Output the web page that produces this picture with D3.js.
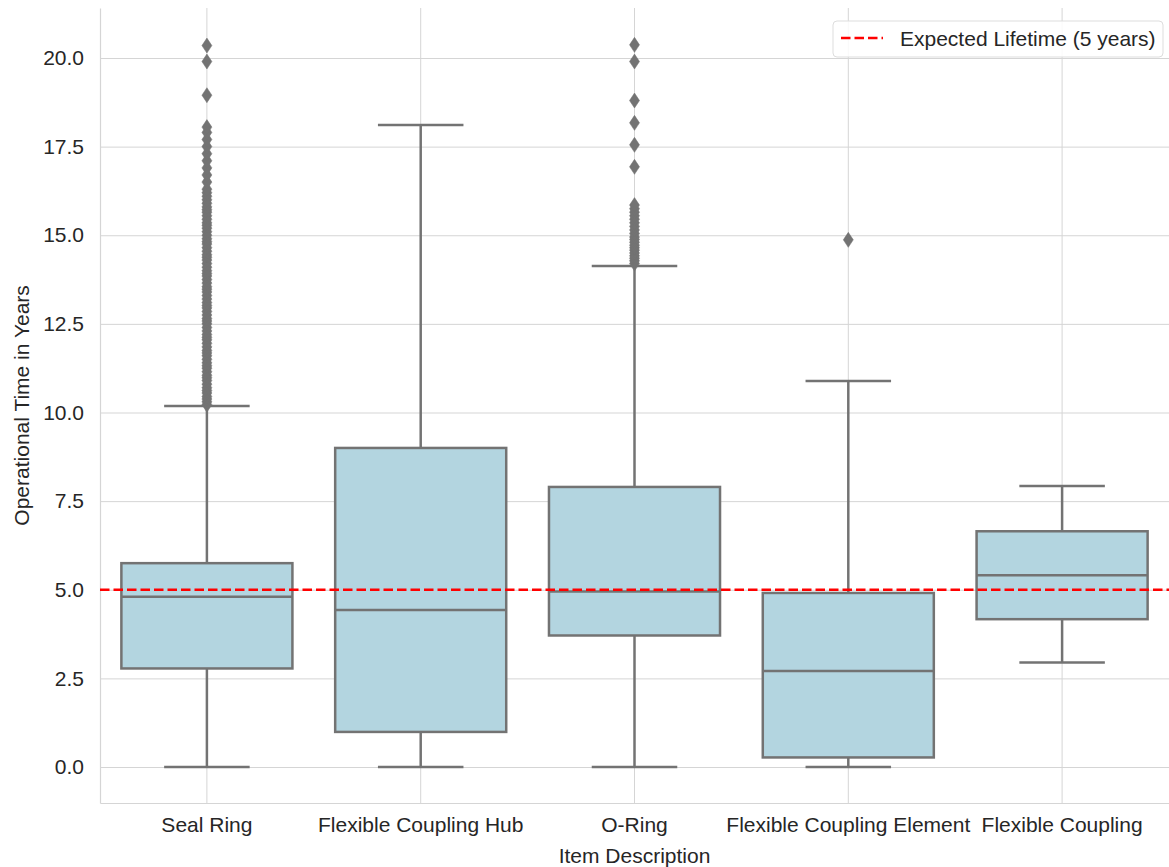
<script src="https://cdn.jsdelivr.net/npm/d3@7"></script>

<style>
  body { margin: 0; background: #fff; }
  text { font-family: "Liberation Sans", Arial, sans-serif; }
</style>

<div id="my_dataviz"></div>

<script>

// ---- data ----
var categories = ["Seal Ring", "Flexible Coupling Hub", "O-Ring", "Flexible Coupling Element", "Flexible Coupling"];
var whiskerLow  = [0.0, 0.0, 0.0, 0.0, 2.95];
var q1          = [2.78, 0.99, 3.71, 0.27, 4.17];
var medians     = [4.80, 4.43, 4.95, 2.71, 5.41];
var q3          = [5.75, 9.00, 7.90, 4.91, 6.65];
var whiskerHigh = [10.18, 18.11, 14.13, 10.89, 7.93];

var sealRingOutliers = [10.22, 10.3, 10.38, 10.45, 10.55, 10.62, 10.7, 10.8, 10.9, 10.98, 11.05, 11.15,
  11.25, 11.32, 11.4, 11.5, 11.6, 11.68, 11.75, 11.85, 11.95, 12.05, 12.12, 12.2, 12.3, 12.4, 12.5,
  12.58, 12.65, 12.75, 12.85, 12.95, 13.02, 13.1, 13.2, 13.3, 13.4, 13.48, 13.55, 13.65, 13.75, 13.85,
  13.92, 14.0, 14.1, 14.2, 14.3, 14.38, 14.45, 14.55, 14.65, 14.75, 14.82, 14.9, 15.0, 15.1, 15.2,
  15.28, 15.35, 15.45, 15.55, 15.65, 15.72, 15.8, 15.9, 16.0, 16.1, 16.2, 16.3, 16.5, 16.7, 16.9,
  17.1, 17.3, 17.5, 17.7, 17.9, 18.05, 18.95, 19.9, 20.35];
var hubOutliers = [];
var oRingOutliers = [14.2, 14.28, 14.35, 14.42, 14.5, 14.58, 14.65, 14.72, 14.8, 14.88, 14.95, 15.05,
  15.15, 15.25, 15.35, 15.45, 15.55, 15.65, 15.75, 15.85, 16.93, 17.55, 18.17, 18.8, 19.9, 20.37];
var elementOutliers = [14.87];
var couplingOutliers = [];
var outliers = [sealRingOutliers, hubOutliers, oRingOutliers, elementOutliers, couplingOutliers];

var yTicks = [0, 2.5, 5, 7.5, 10, 12.5, 15, 17.5, 20];
var expectedLifetime = 5;
var legendLabel = "Expected Lifetime (5 years)";

// ---- layout ----
var margin = {top: 8, right: 0, bottom: 64, left: 100},
  width = 1169 - margin.left - margin.right,
  height = 867 - margin.top - margin.bottom;

var boxFill = "#b3d5e0",
    lineColor = "#737373",
    gridColor = "#d5d5d5",
    textColor = "#262626",
    fontSize = "21px";

var svg = d3.select("#my_dataviz")
.append("svg")
  .attr("width", width + margin.left + margin.right)
  .attr("height", height + margin.top + margin.bottom)
.append("g")
  .attr("transform", "translate(" + margin.left + "," + margin.top + ")");

var x = d3.scaleBand()
  .domain(categories)
  .range([0, width]);

var y = d3.scaleLinear()
  .domain([-1.015, 21.41])
  .range([height, 0]);

// grid
svg.append("g")
  .call(d3.axisLeft(y).tickValues(yTicks).tickSize(-width).tickFormat(""))
  .call(function(g) { g.select(".domain").remove(); })
  .selectAll("line").attr("stroke", gridColor).attr("stroke-width", 1);

svg.append("g")
  .attr("transform", "translate(0," + height + ")")
  .call(d3.axisBottom(x).tickSize(-height).tickFormat(""))
  .call(function(g) { g.select(".domain").remove(); })
  .selectAll("line").attr("stroke", gridColor).attr("stroke-width", 1);

// axes (tick labels + spines)
var yAxis = svg.append("g")
  .call(d3.axisLeft(y).tickValues(yTicks).tickSize(0).tickPadding(16).tickFormat(d3.format(".1f")));
yAxis.select(".domain").attr("stroke", gridColor).attr("stroke-width", 1.2);
yAxis.selectAll("text").attr("fill", textColor).style("font-size", fontSize);

var xAxis = svg.append("g")
  .attr("transform", "translate(0," + height + ")")
  .call(d3.axisBottom(x).tickSize(0).tickPadding(14));
xAxis.select(".domain").attr("stroke", gridColor).attr("stroke-width", 1.2);
xAxis.selectAll("text").attr("fill", textColor).style("font-size", fontSize);

var stats = categories.map(function(c, i) {
  return {cat: c, lo: whiskerLow[i], q1: q1[i], med: medians[i], q3: q3[i], hi: whiskerHigh[i], out: outliers[i]};
});

var boxW = x.bandwidth() * 0.8;
var cx = function(d) { return x(d.cat) + x.bandwidth() / 2; };

var boxes = svg.selectAll(".box")
  .data(stats)
  .enter()
  .append("g")
    .attr("class", "box");

// whiskers
boxes.append("line")
  .attr("x1", cx).attr("x2", cx)
  .attr("y1", function(d) { return y(d.lo); })
  .attr("y2", function(d) { return y(d.q1); })
  .attr("stroke", lineColor).attr("stroke-width", 2.5);
boxes.append("line")
  .attr("x1", cx).attr("x2", cx)
  .attr("y1", function(d) { return y(d.q3); })
  .attr("y2", function(d) { return y(d.hi); })
  .attr("stroke", lineColor).attr("stroke-width", 2.5);

// caps
[ "lo", "hi" ].forEach(function(k) {
  boxes.append("line")
    .attr("x1", function(d) { return cx(d) - boxW / 4; })
    .attr("x2", function(d) { return cx(d) + boxW / 4; })
    .attr("y1", function(d) { return y(d[k]); })
    .attr("y2", function(d) { return y(d[k]); })
    .attr("stroke", lineColor).attr("stroke-width", 2.5);
});

// box
boxes.append("rect")
  .attr("x", function(d) { return cx(d) - boxW / 2; })
  .attr("width", boxW)
  .attr("y", function(d) { return y(d.q3); })
  .attr("height", function(d) { return y(d.q1) - y(d.q3); })
  .attr("fill", boxFill)
  .attr("stroke", lineColor)
  .attr("stroke-width", 2.5);

// median
boxes.append("line")
  .attr("x1", function(d) { return cx(d) - boxW / 2; })
  .attr("x2", function(d) { return cx(d) + boxW / 2; })
  .attr("y1", function(d) { return y(d.med); })
  .attr("y2", function(d) { return y(d.med); })
  .attr("stroke", lineColor).attr("stroke-width", 2.5);

// outliers (thin diamonds)
var diamond = "M0,-7.5L5,0L0,7.5L-5,0Z";
boxes.each(function(d) {
  d3.select(this).selectAll("path.flier")
    .data(d.out)
    .enter()
    .append("path")
      .attr("class", "flier")
      .attr("d", diamond)
      .attr("transform", function(v) { return "translate(" + cx(d) + "," + y(v) + ")"; })
      .attr("fill", lineColor)
      .attr("stroke", lineColor)
      .attr("stroke-width", 0.5);
});

// expected lifetime line
svg.append("line")
  .attr("x1", 0).attr("x2", width)
  .attr("y1", y(expectedLifetime)).attr("y2", y(expectedLifetime))
  .attr("stroke", "red")
  .attr("stroke-width", 2.5)
  .attr("stroke-dasharray", "9.5,4");

// axis labels
svg.append("text")
  .attr("x", width / 2)
  .attr("y", height + 60)
  .attr("text-anchor", "middle")
  .attr("fill", textColor)
  .style("font-size", fontSize)
  .text("Item Description");

svg.append("text")
  .attr("transform", "translate(" + (-margin.left + 29) + "," + y(10.2) + ") rotate(-90)")
  .attr("text-anchor", "middle")
  .attr("fill", textColor)
  .style("font-size", fontSize)
  .text("Operational Time in Years");

// legend
var legend = svg.append("g")
  .attr("transform", "translate(" + (width - 336) + ",13)");
legend.append("rect")
  .attr("width", 330).attr("height", 36)
  .attr("rx", 4)
  .attr("fill", "white").attr("fill-opacity", 0.85)
  .attr("stroke", "#dddddd");
legend.append("line")
  .attr("x1", 8).attr("x2", 50)
  .attr("y1", 17).attr("y2", 17)
  .attr("stroke", "red").attr("stroke-width", 2.5)
  .attr("stroke-dasharray", "9.5,4");
legend.append("text")
  .attr("x", 67).attr("y", 25)
  .attr("fill", textColor)
  .style("font-size", fontSize)
  .text(legendLabel);

</script>
